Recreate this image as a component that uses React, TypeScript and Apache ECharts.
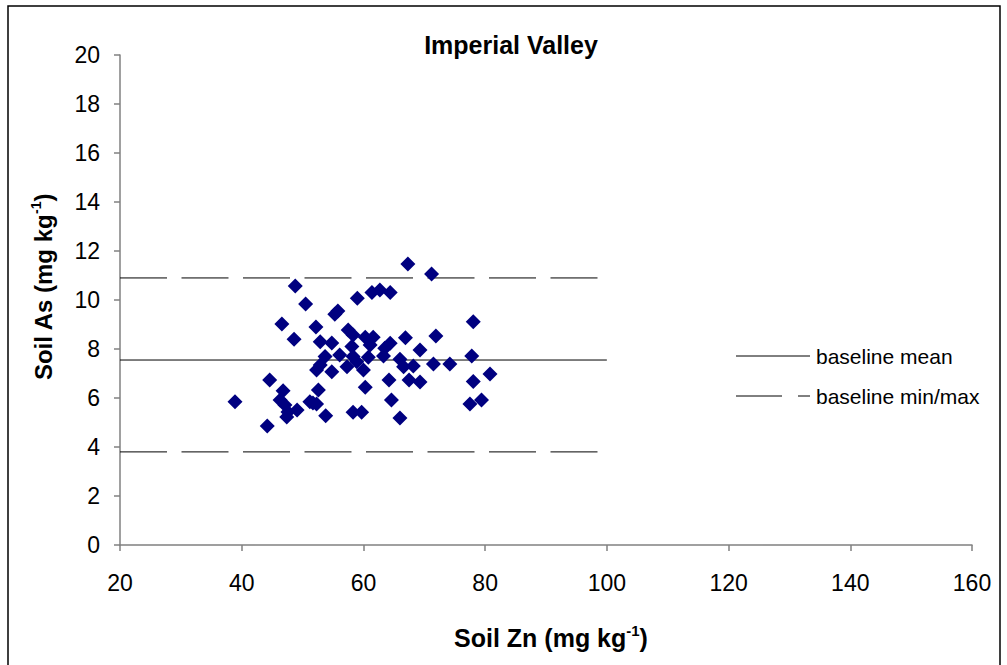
import React, { useEffect, useRef } from "react";
import * as echarts from "echarts";

const soilZn: number[] = [
  38.9, 44.2, 44.6, 46.3, 46.8, 46.6, 47.1, 47.6, 47.4, 49.1,
  48.6, 48.8, 50.5, 51.2, 52.3, 52.6, 52.3, 52.9, 52.2, 52.9,
  53.7, 53.8, 54.8, 54.8, 55.3, 55.8, 56.1, 57.5, 57.3, 58.1,
  58.3, 58.9, 58.3, 58.3, 59.0, 59.7, 60.0, 60.3, 60.3, 60.8,
  61.1, 61.4, 61.6, 62.7, 63.3, 63.5, 64.4, 64.4, 64.2, 64.6,
  66.0, 66.6, 66.0, 66.9, 67.3, 67.5, 68.2, 69.3, 69.3, 71.2,
  71.5, 71.9, 74.2, 77.5, 77.8, 78.05, 78.05, 79.4, 80.8, 51.7,
];
const soilAs: number[] = [
  5.85, 4.86, 6.73, 5.92, 6.3, 9.02, 5.71, 5.43, 5.22, 5.51,
  8.4, 10.57, 9.84, 5.85, 5.76, 6.33, 7.14, 7.35, 8.9, 8.3,
  7.69, 5.28, 8.24, 7.07, 9.42, 9.55, 7.76, 8.78, 7.28, 8.1,
  8.57, 7.48, 7.69, 5.42, 10.07, 5.42, 7.14, 6.44, 8.48, 7.66,
  8.16, 10.31, 8.48, 10.41, 7.71, 8.03, 8.23, 10.31, 6.73, 5.92,
  7.58, 7.28, 5.18, 8.46, 11.47, 6.73, 7.31, 7.96, 6.65, 11.06,
  7.39, 8.53, 7.39, 5.76, 7.71, 9.11, 6.67, 5.92, 6.98, 5.8,
];

const baselineMean = 7.55;
const baselineMin = 3.8;
const baselineMax = 10.9;
const baselineRange: number[] = [20, 100];

const xTicks = { min: 20, max: 160, interval: 20 };
const yTicks = { min: 0, max: 20, interval: 2 };

const FONT = "'Liberation Sans', Arial, Helvetica, sans-serif";

export default function App() {
  const ref = useRef<HTMLDivElement>(null);
  useEffect(() => {
    if (!ref.current) return;
    const chart = echarts.init(ref.current, undefined, { renderer: "svg" });
    const points = soilZn.map((x, i) => [x, soilAs[i]]);
    const line = (v: number) => baselineRange.map((x) => [x, v]);
    const axisCommon = {
      axisLine: { show: true, lineStyle: { color: "#808080", width: 1.5 } },
      axisTick: { show: true, inside: false, length: 6, lineStyle: { color: "#808080", width: 1.5 } },
      splitLine: { show: false },
    };
    const rich = (size: number) => ({
      a: { fontSize: size, fontWeight: "bold", color: "#000", fontFamily: FONT, lineHeight: size + 4 },
      s: { fontSize: Math.round(size * 0.6), fontWeight: "bold", color: "#000", fontFamily: FONT, verticalAlign: "top", lineHeight: Math.round(size * 0.7) },
    });
    chart.setOption({
      animation: false,
      backgroundColor: "#ffffff",
      textStyle: { fontFamily: FONT },
      grid: { left: 120, right: 35, top: 55, bottom: 120, containLabel: false },
      xAxis: {
        type: "value",
        ...xTicks,
        ...axisCommon,
        axisLabel: { color: "#000", fontSize: 23, margin: 26, fontFamily: FONT },
        name: "{a|Soil Zn (mg kg}{s|-1}{a|)}",
        nameLocation: "middle",
        nameGap: 78,
        nameTextStyle: { rich: rich(25), padding: [0, 0, 0, 10] },
      },
      yAxis: {
        type: "value",
        ...yTicks,
        ...axisCommon,
        axisLabel: { color: "#000", fontSize: 23, margin: 20, fontFamily: FONT },
        name: "{a|Soil As (mg kg}{s|-1}{a|)}",
        nameLocation: "middle",
        nameRotate: 90,
        nameGap: 63,
        nameTextStyle: { rich: rich(24), padding: [0, 0, 0, 26] },
      },
      series: [
        {
          type: "line",
          data: line(baselineMean),
          symbol: "none",
          lineStyle: { color: "#000", width: 1 },
          z: 1,
        },
        {
          type: "line",
          data: line(baselineMax),
          symbol: "none",
          lineStyle: { color: "#000", width: 1, type: [47, 14.5] },
          z: 1,
        },
        {
          type: "line",
          data: line(baselineMin),
          symbol: "none",
          lineStyle: { color: "#000", width: 1, type: [47, 14.5] },
          z: 1,
        },
        {
          type: "scatter",
          data: points,
          symbol: "diamond",
          symbolSize: 15,
          itemStyle: { color: "#000080", opacity: 1 },
          z: 3,
        },
      ],
      graphic: [
        {
          type: "rect",
          shape: { x: 8, y: 6, width: 992, height: 700 },
          style: { fill: "none", stroke: "#000", lineWidth: 1.5 },
          silent: true,
        },
        {
          type: "text",
          x: 511,
          y: 45,
          style: {
            text: "Imperial Valley",
            fill: "#000",
            font: `bold 25px ${FONT}`,
            textAlign: "center",
            textVerticalAlign: "middle",
          },
        },
        {
          type: "line",
          shape: { x1: 736, y1: 356, x2: 810, y2: 356 },
          style: { stroke: "#000", lineWidth: 1 },
        },
        {
          type: "text",
          x: 816,
          y: 356,
          style: { text: "baseline mean", fill: "#000", font: `21px ${FONT}`, textVerticalAlign: "middle" },
        },
        {
          type: "line",
          shape: { x1: 736, y1: 396, x2: 782, y2: 396 },
          style: { stroke: "#000", lineWidth: 1 },
        },
        {
          type: "line",
          shape: { x1: 798, y1: 396, x2: 810, y2: 396 },
          style: { stroke: "#000", lineWidth: 1 },
        },
        {
          type: "text",
          x: 816,
          y: 396,
          style: { text: "baseline min/max", fill: "#000", font: `21px ${FONT}`, textVerticalAlign: "middle" },
        },
      ],
    });
    return () => chart.dispose();
  }, []);
  return (
    <div
      ref={ref}
      style={{ position: "absolute", left: 0, top: 0, width: 1007, height: 665, background: "#fff" }}
    />
  );
}
